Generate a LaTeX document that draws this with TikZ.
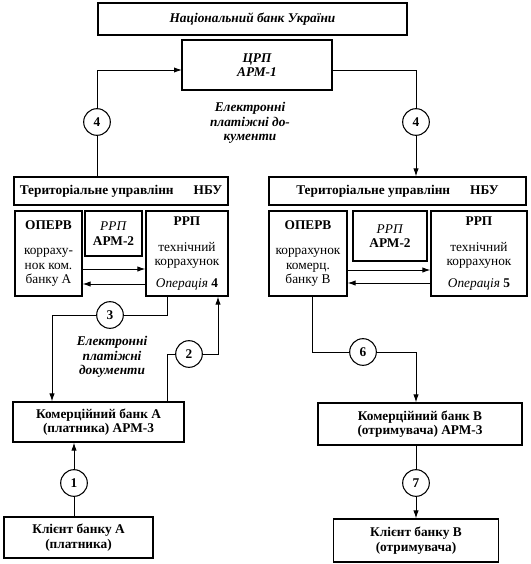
\documentclass[tikz,border=0pt]{standalone}
\usepackage{fontspec}
\setmainfont{Liberation Serif}
\usetikzlibrary{arrows.meta}
\newcommand\txtsize{\fontsize{10}{11}\selectfont}
\tikzset{
  box/.style={draw,line width=0.9pt,align=center,inner sep=1pt,font=\txtsize\bfseries},
  plainbox/.style={draw,line width=0.9pt,align=center,inner sep=1pt,font=\txtsize},
  num/.style={draw,circle,line width=0.8pt,minimum size=20pt,inner sep=0pt,fill=white,font=\txtsize\bfseries},
  doctext/.style={align=center,font=\txtsize\bfseries\itshape}
}
\begin{document}
\begin{tikzpicture}[x=0.75pt,y=-0.75pt,line width=0.7pt,>={Latex[length=6pt,width=4pt]}]
\useasboundingbox (0,0) rectangle (531,564);
% top
\node[box,minimum width=231.75pt,minimum height=24pt,font=\txtsize\bfseries\itshape] (nbu) at (252.5,19) {Національний банк України};
\node[box,minimum width=112.5pt,minimum height=37.5pt,font=\txtsize\bfseries\itshape] (crp) at (257,65) {ЦРП\\АРМ-1};
\coordinate (crpL) at (182,70);
\coordinate (crpR) at (332,70);
\node[doctext] (edoc1) at (250,123) {Електронні\\платіжні до-\\кументи};
% territorial units
\node[box,minimum width=160.5pt,minimum height=21pt] (terrA) at (121,191) {Територіальне управлінн\hspace{1.5em}НБУ};
\node[box,minimum width=192.75pt,minimum height=21pt] (terrB) at (397.5,191) {Територіальне управлінн\hspace{1.5em}НБУ};
% bank A side
\node[plainbox,minimum width=50.25pt,minimum height=63.75pt] (opervA) at (48.5,253.5) {\textbf{ОПЕРВ}\\[8pt]корраху-\\нок ком.\\банку А};
\node[plainbox,minimum width=42.75pt,minimum height=33.75pt] (armA) at (113.5,233.5) {\textit{РРП}\\\textbf{АРМ-2}};
\node[plainbox,minimum width=61.5pt,minimum height=63.75pt] (rrpA) at (187,253.5) {\textbf{РРП}\\[8pt]технічний\\коррахунок\\[5pt]\textit{Операція} \textbf{4}};
% bank B side
\node[plainbox,minimum width=58.5pt,minimum height=63.75pt] (opervB) at (308,253.5) {\textbf{ОПЕРВ}\\[8pt]коррахунок\\комерц.\\банку В};
\node[plainbox,minimum width=55.5pt,minimum height=37.5pt] (armB) at (390,236) {\textit{РРП}\\\textbf{АРМ-2}};
\node[plainbox,minimum width=72pt,minimum height=63.75pt] (rrpB) at (479,253.5) {\textbf{РРП}\\[8pt]технічний\\коррахунок\\[5pt]\textit{Операція} \textbf{5}};
% commercial banks and clients
\node[doctext] (edoc2) at (112,357) {Електронні\\платіжні\\документи};
\node[box,minimum width=128.25pt,minimum height=30pt] (bankA) at (98.5,422) {Комерційний банк А\\(платника) АРМ-3};
\node[box,minimum width=153pt,minimum height=31.5pt] (bankB) at (420,424) {Комерційний банк В\\(отримувача) АРМ-3};
\node[box,minimum width=111.75pt,minimum height=30.75pt] (clientA) at (78.5,537.5) {Клієнт банку А\\(платника)};
\node[box,minimum width=123.75pt,minimum height=32.25pt] (clientB) at (416,540.5) {Клієнт банку В\\(отримувача)};
% numbered steps
\node[num] (c4a) at (97,122) {4};
\node[num] (c4b) at (416,122) {4};
\node[num] (c3) at (110,315) {3};
\node[num] (c2) at (189,354) {2};
\node[num] (c6) at (363,352) {6};
\node[num] (c1) at (74,483) {1};
\node[num] (c7) at (416,483) {7};
% connectors
\draw (terrA.north -| c4a) -- (c4a);
\draw[->] (c4a) |- (crpL);
\draw (crpR) -| (c4b);
\draw[->] (c4b) -- (terrB.north -| c4b);
\draw[->] (opervA.east |- 0,269) -- (rrpA.west |- 0,269);
\draw[->] (rrpA.west |- 0,284) -- (opervA.east |- 0,284);
\draw[->] (opervB.east |- 0,270) -- (rrpB.west |- 0,270);
\draw[->] (rrpB.west |- 0,283) -- (opervB.east |- 0,283);
\draw[->] (rrpA.south -| 167,0) |- (c3) -| (bankA.north -| 52,0);
\draw[->] (bankA.north -| 167,0) |- (c2) -| (rrpA.south -| 218,0);
\draw[->] (opervB.south -| 312,0) |- (c6) -| (bankB.north -| 416,0);
\draw (clientA.north -| c1) -- (c1);
\draw[->] (c1) -- (bankA.south -| c1);
\draw (bankB.south -| c7) -- (c7);
\draw[->] (c7) -- (clientB.north -| c7);
\end{tikzpicture}
\end{document}
